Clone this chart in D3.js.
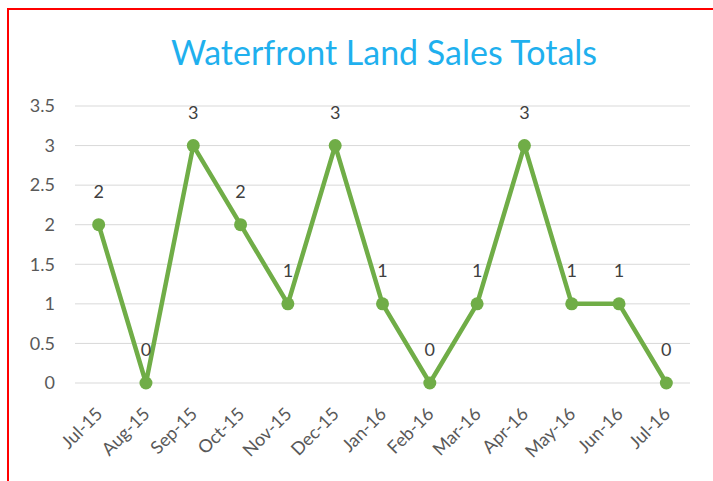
<!DOCTYPE html>
<html>
<head>
<meta charset="utf-8">
<script src="https://cdn.jsdelivr.net/npm/d3@7"></script>
<style>
  body { margin: 0; background: #fff; }
  svg { display: block; }
</style>
</head>
<body>
<svg id="chart"></svg>
<script>
// data
const months = ["Jul-15", "Aug-15", "Sep-15", "Oct-15", "Nov-15", "Dec-15", "Jan-16",
                "Feb-16", "Mar-16", "Apr-16", "May-16", "Jun-16", "Jul-16"];
const sales = [2, 0, 3, 2, 1, 3, 1, 0, 1, 3, 1, 1, 0];
const yTicks = [0, 0.5, 1, 1.5, 2, 2.5, 3, 3.5];

const width = 713, height = 481;
const margin = {top: 106, right: 23, bottom: 98, left: 75};
const font = "Lato, 'Open Sans', sans-serif";

let svg = d3.select("#chart")
    .attr("width", width)
    .attr("height", height);

svg.append("rect")
    .attr("width", width)
    .attr("height", height)
    .attr("fill", "#fff");

// red frame (only top and left edges show)
svg.append("path")
    .attr("d", `M8,${height} V9 H${width}`)
    .attr("fill", "none")
    .attr("stroke", "#ff0000")
    .attr("stroke-width", 2);

let xScale = d3.scaleBand()
    .domain(months)
    .range([margin.left, width - margin.right]);

let yScale = d3.scaleLinear()
    .domain([0, 3.5])
    .range([height - margin.bottom, margin.top]);

// gridlines
svg.append("g")
    .selectAll("line")
    .data(yTicks)
    .join("line")
    .attr("x1", margin.left)
    .attr("x2", width - margin.right)
    .attr("y1", d => yScale(d))
    .attr("y2", d => yScale(d))
    .attr("stroke", "#d9d9d9")
    .attr("stroke-width", 1);

// y axis labels
let yAxis = svg.append("g")
    .attr("transform", `translate(${margin.left - 17}, 0)`)
    .call(d3.axisLeft(yScale).tickValues(yTicks).tickSize(0).tickFormat(d3.format("")));
yAxis.select(".domain").remove();
yAxis.selectAll("text")
    .attr("font-family", font)
    .attr("font-size", 18)
    .attr("fill", "#595959");

// x axis labels
let xAxis = svg.append("g")
    .attr("transform", `translate(0, ${height - margin.bottom})`)
    .call(d3.axisBottom(xScale).tickSize(0));
xAxis.select(".domain").remove();
xAxis.selectAll("text")
    .attr("font-family", font)
    .attr("font-size", 18)
    .attr("fill", "#595959")
    .attr("text-anchor", "end")
    .attr("x", 0)
    .attr("y", 0)
    .attr("dy", 0)
    .attr("transform", "translate(5, 32) rotate(-45)");

let cx = d => xScale(d) + xScale.bandwidth() / 2;

// line
let line = d3.line()
    .x((d, i) => cx(months[i]))
    .y(d => yScale(d));

svg.append("path")
    .datum(sales)
    .attr("d", line)
    .attr("fill", "none")
    .attr("stroke", "#70ad47")
    .attr("stroke-width", 4.5)
    .attr("stroke-linejoin", "round");

svg.append("g")
    .selectAll("circle")
    .data(sales)
    .join("circle")
    .attr("cx", (d, i) => cx(months[i]))
    .attr("cy", d => yScale(d))
    .attr("r", 6.5)
    .attr("fill", "#70ad47");

// data labels
svg.append("g")
    .selectAll("text")
    .data(sales)
    .join("text")
    .attr("x", (d, i) => cx(months[i]))
    .attr("y", d => yScale(d) - 27)
    .attr("text-anchor", "middle")
    .attr("font-family", font)
    .attr("font-size", 18)
    .attr("fill", "#404040")
    .text(d => d);

// title
svg.append("text")
    .attr("x", 384)
    .attr("y", 65)
    .attr("text-anchor", "middle")
    .attr("font-family", font)
    .attr("font-size", 34)
    .attr("fill", "#1fb0ee")
    .text("Waterfront Land Sales Totals");
</script>
</body>
</html>
